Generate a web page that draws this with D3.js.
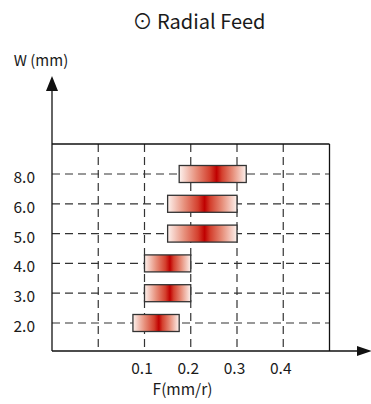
<!DOCTYPE html>
<html><head><meta charset="utf-8">
<script src="https://cdn.jsdelivr.net/npm/d3@7"></script>
<style>body{margin:0;background:#fff}svg{display:block}text{font-family:"Noto Sans CJK SC","Noto Sans",sans-serif;fill:#1a1a1a}</style>
</head><body><svg id="c" width="371" height="404"></svg>
<script>
const categories = ["2.0","3.0","4.0","5.0","6.0","8.0"];
const feedMin = [0.075, 0.10, 0.10, 0.15, 0.15, 0.175];
const feedMax = [0.175, 0.20, 0.20, 0.30, 0.30, 0.32];
const feedOpt = [0.131, 0.155, 0.155, 0.23, 0.23, 0.256];
const xTicks = [0.1, 0.2, 0.3, 0.4];
const xGrid = [0.0, 0.1, 0.2, 0.3, 0.4];

const svg = d3.select("#c");
const x = d3.scaleLinear().domain([-0.1, 0.5]).range([52, 329.5]);
const y = d3.scalePoint().domain(categories).range([323, 174]);
const plotTop = 144, plotBottom = 351, plotLeft = x(-0.1), plotRight = x(0.5);

svg.append("text").attr("x", 199).attr("y", 29).attr("text-anchor", "middle")
  .attr("font-size", 20).text("\u2299 Radial Feed");
svg.append("text").attr("x", 41).attr("y", 66).attr("text-anchor", "middle")
  .attr("font-size", 15).text("W (mm)");

const defs = svg.append("defs");
const rows = categories.map((c, i) => ({c, lo: feedMin[i], hi: feedMax[i], opt: feedOpt[i], i}));
rows.forEach(r => {
  const t = (r.opt - r.lo) / (r.hi - r.lo);
  const g = defs.append("linearGradient").attr("id", "g" + r.i).attr("x1", 0).attr("x2", 1).attr("y1", 0).attr("y2", 0);
  [[0, "#fdf2ee"], [t * 0.45, "#e7907c"], [t * 0.82, "#d4402e"], [t, "#c00000"],
   [t + (1 - t) * 0.18, "#d4402e"], [t + (1 - t) * 0.55, "#e7907c"], [1, "#fdf2ee"]]
    .forEach(s => g.append("stop").attr("offset", s[0]).attr("stop-color", s[1]));
});

// grid
svg.append("g").selectAll("line").data(categories).join("line")
  .attr("x1", plotLeft).attr("x2", plotRight).attr("y1", d => y(d)).attr("y2", d => y(d))
  .attr("stroke", "#333").attr("stroke-width", 1.2).attr("stroke-dasharray", "8,5");
svg.append("g").selectAll("line").data(xGrid).join("line")
  .attr("x1", d => x(d)).attr("x2", d => x(d)).attr("y1", plotTop).attr("y2", plotBottom)
  .attr("stroke", "#333").attr("stroke-width", 1.2).attr("stroke-dasharray", "8,5");

// frame
svg.append("line").attr("x1", plotLeft).attr("x2", plotRight).attr("y1", plotTop).attr("y2", plotTop).attr("stroke", "#111").attr("stroke-width", 1.3);
svg.append("line").attr("x1", plotRight).attr("x2", plotRight).attr("y1", plotTop).attr("y2", plotBottom).attr("stroke", "#111").attr("stroke-width", 1.3);
svg.append("line").attr("x1", plotLeft).attr("x2", plotLeft).attr("y1", plotBottom).attr("y2", 88).attr("stroke", "#111").attr("stroke-width", 1.3);
svg.append("line").attr("x1", plotLeft).attr("x2", 360).attr("y1", plotBottom).attr("y2", plotBottom).attr("stroke", "#111").attr("stroke-width", 1.3);
svg.append("path").attr("d", `M${plotLeft},76L${plotLeft+6},91L${plotLeft-6},91Z`).attr("fill", "#111");
svg.append("path").attr("d", `M372,${plotBottom}L357,${plotBottom-5}L357,${plotBottom+5}Z`).attr("fill", "#111");

// bars
svg.append("g").selectAll("rect").data(rows).join("rect")
  .attr("x", d => x(d.lo)).attr("width", d => x(d.hi) - x(d.lo))
  .attr("y", d => y(d.c) - 8.5).attr("height", 17)
  .attr("fill", d => `url(#g${d.i})`).attr("stroke", "#333").attr("stroke-width", 1.3);

// labels
svg.append("g").selectAll("text").data(categories).join("text")
  .attr("x", 35).attr("y", d => y(d) + 9).attr("text-anchor", "end").attr("font-size", 15.5).text(d => d);
svg.append("g").selectAll("text").data(xTicks).join("text")
  .attr("x", d => x(d) - 2.5).attr("y", 374).attr("text-anchor", "middle").attr("font-size", 15.5).text(d => d.toFixed(1));
svg.append("text").attr("x", 182.5).attr("y", 395).attr("text-anchor", "middle").attr("font-size", 15.5).text("F(mm/r)");
</script></body></html>
